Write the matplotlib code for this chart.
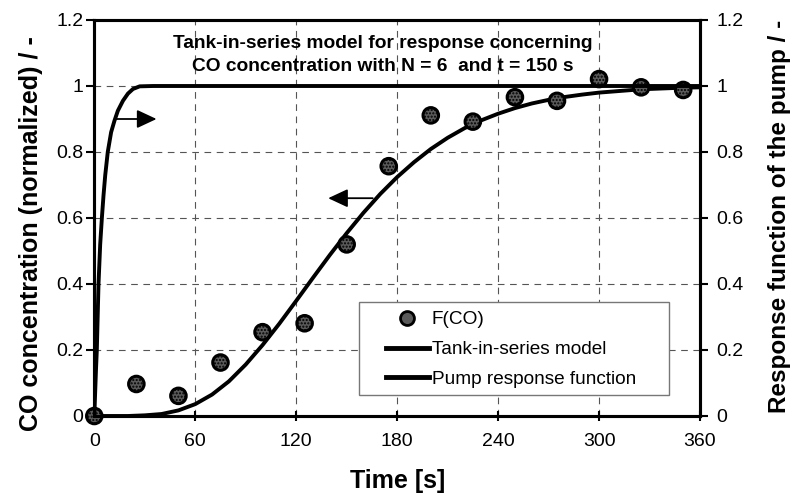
import matplotlib
matplotlib.use("Agg")
import matplotlib.pyplot as plt
from matplotlib.lines import Line2D
from matplotlib.patches import Rectangle

plt.rcParams['font.family'] = ['Liberation Sans', 'DejaVu Sans']

# Measured data F(CO)
t_meas = [0, 25, 50, 75, 100, 125, 150, 175, 200, 225, 250, 275, 300, 325, 350]
f_co = [0.0, 0.097, 0.061, 0.162, 0.254, 0.281, 0.52, 0.757, 0.911, 0.892, 0.966, 0.955, 1.021, 0.996, 0.988]

# Tank-in-series model curve
t_model = [0, 10, 20, 30, 40, 50, 60, 70, 80, 90, 100, 110, 120, 130, 140, 150, 160, 170, 180,
           190, 200, 210, 220, 230, 240, 250, 260, 270, 280, 290, 300, 310, 320, 330, 340, 350, 360]
f_model = [0.0, 0.0, 0.0, 0.002, 0.006, 0.017, 0.036, 0.065, 0.105, 0.156, 0.215, 0.28, 0.349,
           0.419, 0.488, 0.554, 0.616, 0.673, 0.724, 0.769, 0.809, 0.843, 0.872, 0.896, 0.916,
           0.933, 0.947, 0.958, 0.967, 0.974, 0.98, 0.984, 0.988, 0.991, 0.993, 0.995, 0.996]

# Pump response function
t_pump = [0, 1, 1.5, 2.5, 3.5, 4.5, 5.5, 6.5, 8, 10, 12, 14, 17, 20, 23, 27, 35, 360]
f_pump = [0.0, 0.14, 0.2, 0.4, 0.52, 0.6, 0.67, 0.73, 0.8, 0.86, 0.895, 0.925, 0.955, 0.977,
          0.991, 0.999, 1.0, 1.0]

x_ticks = [0, 60, 120, 180, 240, 300, 360]
y_ticks = [0, 0.2, 0.4, 0.6, 0.8, 1.0, 1.2]
y_ticklabels = ['0', '0.2', '0.4', '0.6', '0.8', '1', '1.2']

W, H = 795, 500
fig = plt.figure(figsize=(7.95, 5.0), dpi=100)
ax = fig.add_axes([94.3 / W, 1 - 416 / H, (700 - 94.3) / W, 396 / H])
ax2 = ax.twinx()

ax.set_xlim(0, 360)
ax.set_ylim(0, 1.2)
ax2.set_ylim(0, 1.2)
ax.set_xticks(x_ticks)
ax.set_xticklabels([str(v) for v in x_ticks])
ax.set_yticks(y_ticks)
ax.set_yticklabels(y_ticklabels)
ax2.set_yticks(y_ticks)
ax2.set_yticklabels(y_ticklabels)

ax.grid(True, which='major', color='#555555', linestyle=(0, (6, 5)), linewidth=0.8)
ax.set_axisbelow(True)

for a in (ax, ax2):
    for s in a.spines.values():
        s.set_linewidth(2.2)
        s.set_color('black')

ax.tick_params(axis='y', direction='out', length=6, width=1.5, pad=2, labelsize=14)
ax.tick_params(axis='x', direction='inout', length=7, width=1.5, pad=9, labelsize=14)
ax2.tick_params(axis='y', direction='out', length=6, width=1.5, pad=6, labelsize=14)

# curves
ax.plot(t_model, f_model, color='black', lw=2.8, solid_capstyle='round', zorder=3)
ax2.plot(t_pump, f_pump, color='black', lw=2.8, solid_capstyle='round',
         solid_joinstyle='round', zorder=3)
ax.scatter(t_meas, f_co, s=125, facecolor='#5a5a5a', edgecolor='black', linewidths=2.2,
           hatch='.....', zorder=5, clip_on=False)

# arrows
arrow_style = '-|>,head_length=0.6,head_width=0.28'
ax.annotate('', xy=(139, 0.66), xytext=(165.5, 0.66),
            arrowprops=dict(arrowstyle=arrow_style, color='black', lw=1.3, mutation_scale=20,
                            shrinkA=0, shrinkB=0))
ax.annotate('', xy=(37, 0.9), xytext=(12.5, 0.9),
            arrowprops=dict(arrowstyle=arrow_style, color='black', lw=1.3, mutation_scale=20,
                            shrinkA=0, shrinkB=0))

# inner title
ax.text(171.5, 1.13, 'Tank-in-series model for response concerning', ha='center', va='center',
        fontsize=13.8, fontweight='bold')
ax.text(171.5, 1.058, 'CO concentration with N = 6  and t = 150 s', ha='center', va='center',
        fontsize=13.8, fontweight='bold')

ax.set_xlabel('Time [s]', fontsize=18, fontweight='bold')
ax.xaxis.set_label_coords(0.5, -0.135)
ax.set_ylabel('CO concentration (normalized) / -', fontsize=18, fontweight='bold')
ax.yaxis.set_label_coords(-0.084, 0.46)
ax2.set_ylabel('Response function of the pump / -', fontsize=17.5, fontweight='bold')
ax2.yaxis.set_label_coords(1.112, 0.505)

# legend frame
frame = Rectangle((359 / W, 1 - 395 / H), (669 - 359) / W, (395 - 302) / H,
                  transform=fig.transFigure, facecolor='white', edgecolor='#777777', lw=1.0,
                  zorder=9)
ax2.add_patch(frame)

h_pts = Line2D([], [], marker='o', linestyle='none', markersize=10, markerfacecolor='#5a5a5a',
               markeredgecolor='black', markeredgewidth=2)
h_model = Line2D([], [], color='black', lw=3.5)
h_pump = Line2D([], [], color='black', lw=3.5)
leg = ax2.legend([h_pts, h_model, h_pump], ['F(CO)', 'Tank-in-series model', 'Pump response function'],
                 loc='upper left', bbox_to_anchor=(386 / W, 1 - 311 / H),
                 bbox_transform=fig.transFigure, fontsize=13.7, frameon=False,
                 borderpad=0.0, labelspacing=0.66, handlelength=2.25, handletextpad=0.15,
                 borderaxespad=0)
leg.set_zorder(10)

fig.savefig('out.png', dpi=100)
